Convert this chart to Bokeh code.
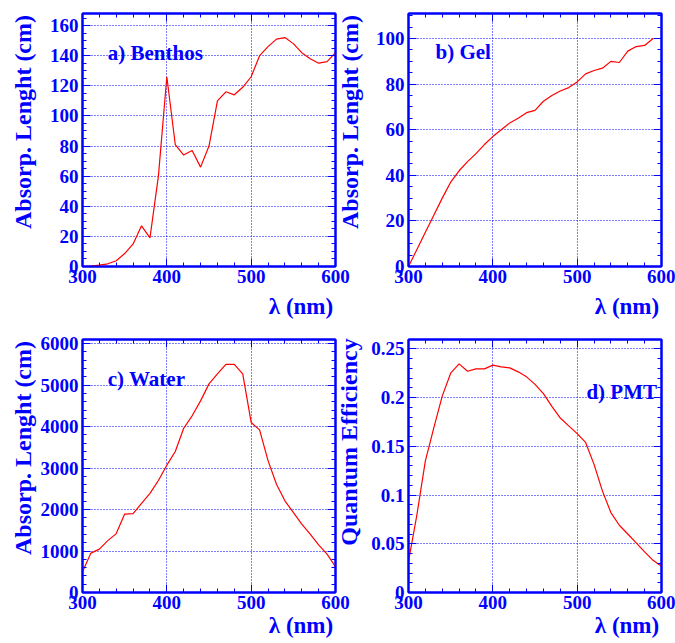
from bokeh.plotting import figure
from bokeh.models import (LinearAxis, SingleIntervalTicker, Label, Range1d,
                          CustomJSTickFormatter)
from bokeh.layouts import row, column
from bokeh.embed import file_html
from bokeh.resources import INLINE

# ---------------- data ----------------
wavelength = [300, 310, 320, 330, 340, 350, 360, 370, 380, 390, 400,
              410, 420, 430, 440, 450, 460, 470, 480, 490, 500,
              510, 520, 530, 540, 550, 560, 570, 580, 590, 600]

benthos = [0, 0.3, 0.9, 1.8, 3.8, 8.6, 15, 27, 19, 60, 126,
           81, 74, 77, 66, 80, 110, 116, 114, 119, 126,
           140, 146, 151, 152, 148, 142, 138, 135, 136, 142]

gel_wavelength = wavelength[:-1]
gel = [0, 7.5, 15, 22.5, 30, 37, 42, 46, 49.5, 53.5, 57,
       60, 63, 65, 67.5, 68.5, 72.5, 75, 77, 78.5, 81,
       84.5, 86, 87, 90, 89.5, 94.5, 96.5, 97, 100]

water = [500, 950, 1045, 1250, 1420, 1890, 1900, 2150, 2390, 2700, 3070,
         3400, 3960, 4260, 4620, 5030, 5270, 5500, 5500, 5270, 4100,
         3920, 3180, 2610, 2210, 1930, 1650, 1410, 1150, 925, 620]

pmt_qe = [0.032, 0.080, 0.135, 0.169, 0.2015, 0.225, 0.2346, 0.227, 0.2295, 0.2295, 0.2333,
          0.2316, 0.2305, 0.2264, 0.2213, 0.2135, 0.204, 0.191, 0.179, 0.171, 0.163,
          0.154, 0.1315, 0.104, 0.082, 0.069, 0.060, 0.051, 0.0417, 0.033, 0.027]

x_title = "λ (nm)"
y_title_abs = "Absorp. Lenght (cm)"
y_title_qe = "Quantum Efficiency"
panel_labels = ["a) Benthos", "b) Gel", "c) Water", "d) PMT"]

BLUE = "#0000ff"
RED = "#ff0000"
FONT = "Liberation Serif"
EM = "\u2003"   # leading em spaces push the centred axis title to the axis end
EN = "\u2002"

blank_fmt = CustomJSTickFormatter(code="return '';")


def style_axis(ax, ticker, show_labels, label_standoff=4):
    ax.ticker = ticker
    ax.axis_line_color = BLUE
    ax.axis_line_width = 2
    ax.major_tick_line_color = BLUE
    ax.minor_tick_line_color = BLUE
    ax.major_tick_line_width = 1
    ax.minor_tick_line_width = 1
    ax.major_tick_in = 8
    ax.major_tick_out = 0
    ax.minor_tick_in = 4
    ax.minor_tick_out = 0
    if show_labels:
        ax.major_label_text_font = FONT
        ax.major_label_text_font_style = "bold"
        ax.major_label_text_font_size = "19px"
        ax.major_label_text_color = BLUE
        ax.major_label_standoff = label_standoff
    else:
        ax.formatter = blank_fmt
        ax.major_label_text_font_size = "1px"
        ax.major_label_standoff = 0


def set_title(ax, text, size, standoff):
    ax.axis_label = text
    ax.axis_label_text_font = FONT
    ax.axis_label_text_font_style = "bold"
    ax.axis_label_text_font_size = size
    ax.axis_label_text_color = BLUE
    ax.axis_label_standoff = standoff


def make_panel(xs, ys, ymax, yint, yminor, ytitle, label, lx, ly,
               bl, br, bt, bb, ytitle_standoff, xtitle_standoff,
               yfmt=None, margin=None):
    p = figure(frame_width=253, frame_height=253,
               x_range=Range1d(300, 600), y_range=Range1d(0, ymax),
               output_backend="svg", toolbar_location=None,
               min_border_left=bl, min_border_right=br,
               min_border_top=bt, min_border_bottom=bb,
               margin=margin)
    p.background_fill_color = "white"
    p.border_fill_color = None
    p.outline_line_color = BLUE
    p.outline_line_width = 2

    xt = SingleIntervalTicker(interval=100, num_minor_ticks=5)
    yt = SingleIntervalTicker(interval=yint, num_minor_ticks=yminor)

    style_axis(p.xaxis[0], xt, True, label_standoff=3)
    style_axis(p.yaxis[0], yt, True, label_standoff=4)
    if yfmt is not None:
        p.yaxis[0].formatter = yfmt
    set_title(p.xaxis[0], EM * 8 + x_title, "23px", xtitle_standoff)
    set_title(p.yaxis[0], ytitle, "24px", ytitle_standoff)

    top = LinearAxis()
    style_axis(top, SingleIntervalTicker(interval=100, num_minor_ticks=5), False)
    p.add_layout(top, "above")
    right = LinearAxis()
    style_axis(right, SingleIntervalTicker(interval=yint, num_minor_ticks=yminor), False)
    p.add_layout(right, "right")

    p.xgrid.ticker = xt
    p.ygrid.ticker = yt
    for g in (p.xgrid[0], p.ygrid[0]):
        g.grid_line_color = BLUE
        g.grid_line_dash = "1 2"
        g.grid_line_width = 1

    p.line(xs, ys, line_color=RED, line_width=1.2)

    p.add_layout(Label(x=lx, y=ly, text=label, text_font=FONT,
                       text_font_style="bold", text_font_size="21px",
                       text_color=BLUE, text_baseline="middle"))
    return p


qe_fmt = CustomJSTickFormatter(code="return String(parseFloat(tick.toFixed(4)));")

abs_title = EM + EN + y_title_abs
qe_title = EM * 2 + y_title_qe

pa = make_panel(wavelength, benthos, 168, 20, 4, abs_title, panel_labels[0], 330, 142,
                82, 17, 13, 58, 11, 8)
pb = make_panel(gel_wavelength, gel, 111, 20, 4, abs_title, panel_labels[1], 332, 94,
                78, 14, 13, 58, 10, 8, margin=(0, 0, 0, -22))
pc = make_panel(wavelength, water, 6100, 1000, 5, abs_title, panel_labels[2], 330, 5155,
                82, 17, 15, 51, 2, 1)
pd = make_panel(wavelength, pmt_qe, 0.2596, 0.05, 5, qe_title, panel_labels[3], 511, 0.206,
                78, 14, 15, 51, 6, 1, yfmt=qe_fmt, margin=(0, 0, 0, -22))

layout = column(row(pa, pb), row(pc, pd))

open("out.html", "w").write(file_html(layout, INLINE))
